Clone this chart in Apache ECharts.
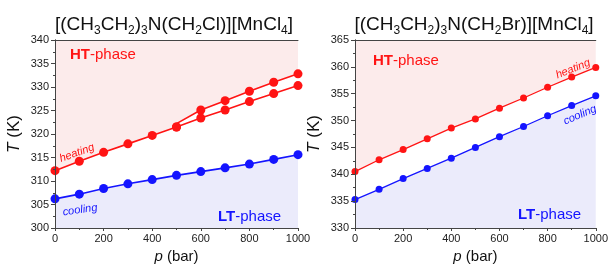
<!DOCTYPE html>
<html>
<head>
<meta charset="utf-8">
<script src="https://cdn.jsdelivr.net/npm/echarts@6/dist/echarts.min.js"></script>
<style>
  html, body { margin: 0; padding: 0; background: #fff; }
  #main { width: 611px; height: 269px; }
</style>
</head>
<body>
<div id="main"></div>
<script>
// pressure points (bar)
var pressure = [0, 100, 200, 300, 400, 500, 600, 700, 800, 900, 1000];

// left: [(CH3CH2)3N(CH2Cl)][MnCl4]
var heatL = [312.2, 314.2, 316.1, 317.9, 319.7, 321.5];          // 0..500
var heatUpL = [322.2, 325.1, 327.1, 329.1, 331.0, 332.8];        // 500..1000, first value is line start
var heatLoL = [321.5, 323.4, 325.1, 326.9, 328.6, 330.3];        // 500..1000
var coolL = [306.2, 307.2, 308.4, 309.4, 310.3, 311.2, 312.0, 312.8, 313.6, 314.6, 315.6];

// right: [(CH3CH2)3N(CH2Br)][MnCl4]
var heatR = [340.5, 342.7, 344.6, 346.6, 348.6, 350.3, 352.3, 354.2, 356.2, 358.1, 359.9];
var coolR = [335.3, 337.2, 339.2, 341.1, 343.0, 345.0, 347.0, 348.9, 350.9, 352.8, 354.6];

var RED = '#ff1414';
var BLUE = '#1414ff';
var PINK = '#fcebeb';
var LAV = '#ebebfb';
var FONT = 'Liberation Sans';

function pairs(xs, ys) {
    var out = [];
    for (var i = 0; i < ys.length; i++) out.push([xs[i], ys[i]]);
    return out;
}

// heating curve for the left panel: single branch, then upper branch (start point has no marker)
var heatAreaL = pairs(pressure.slice(0, 6), heatL);
heatAreaL.push({ value: [500, heatUpL[0]], symbol: 'none' });
heatAreaL = heatAreaL.concat(pairs(pressure.slice(6), heatUpL.slice(1)));

function xAxisOf(grid) {
    return {
        gridIndex: grid, type: 'value', min: 0, max: 1000, interval: 200,
        name: '{i|p} (bar)', nameLocation: 'middle', nameGap: 21,
        nameTextStyle: { fontSize: 15, color: '#111', fontFamily: FONT,
            rich: { i: { fontStyle: 'italic', fontSize: 15, fontFamily: FONT, color: '#111' } } },
        axisLine: { lineStyle: { color: '#444', width: 1 } },
        axisTick: { inside: false, length: 3, lineStyle: { color: '#444' } },
        minorTick: { show: true, splitNumber: 2, length: 2, lineStyle: { color: '#444' } },
        axisLabel: { fontSize: 11, color: '#222', margin: 5, fontFamily: FONT,
            formatter: function (v) { return String(v); } },
        splitLine: { show: false },
        z: 5
    };
}
function yAxisOf(grid, min, max) {
    return {
        gridIndex: grid, type: 'value', min: min, max: max, interval: 5,
        name: '{i|T} (K)', nameLocation: 'middle', nameGap: 32,
        nameTextStyle: { fontSize: 17, color: '#111', fontFamily: FONT,
            rich: { i: { fontStyle: 'italic', fontSize: 17, fontFamily: FONT, color: '#111' } } },
        axisLine: { show: true, lineStyle: { color: '#444', width: 1 } },
        axisTick: { length: 4, lineStyle: { color: '#444' } },
        minorTick: { show: true, splitNumber: 2, length: 2, lineStyle: { color: '#444' } },
        axisLabel: { fontSize: 11, color: '#222', margin: 6, fontFamily: FONT },
        splitLine: { show: false },
        z: 5
    };
}
function frameX(grid) {
    return { gridIndex: grid, type: 'value', position: 'top', min: 0, max: 1000,
        axisLine: { show: true, lineStyle: { color: '#444' } }, axisTick: { show: false },
        axisLabel: { show: false }, splitLine: { show: false }, z: 5 };
}
function frameY(grid, min, max) {
    return { gridIndex: grid, type: 'value', position: 'right', min: min, max: max,
        axisLine: { show: true, lineStyle: { color: '#444' } }, axisTick: { show: false },
        axisLabel: { show: false }, splitLine: { show: false }, z: 5 };
}

function lineSeries(xi, yi, data, color, size, width, area, origin) {
    var s = {
        type: 'line', xAxisIndex: xi, yAxisIndex: yi, data: data,
        symbol: 'circle', symbolSize: size, showSymbol: true,
        itemStyle: { color: color },
        lineStyle: { color: color, width: width },
        animation: false, z: 3
    };
    if (area) s.areaStyle = { color: area, opacity: 1, origin: origin };
    return s;
}

var sub = { fontSize: 12, fontFamily: FONT, fill: '#111', verticalAlign: 'bottom', lineHeight: 12 };
var main = { fontSize: 19, fontFamily: FONT, fill: '#111', lineHeight: 23 };

function titleText(x, txt) {
    return {
        type: 'text', x: x, y: 25, z: 10,
        style: { text: txt, align: 'center', verticalAlign: 'middle',
            rich: { m: main, s: sub } }
    };
}
function phaseText(x, y, bold, color) {
    return {
        type: 'text', x: x, y: y, z: 10,
        style: { text: '{b|' + bold + '}{n|-phase}', verticalAlign: 'middle', fill: color,
            rich: {
                b: { fontSize: 15, fontWeight: 'bold', fontFamily: FONT, fill: color },
                n: { fontSize: 15, fontFamily: FONT, fill: color }
            } }
    };
}
function noteText(x, y, txt, color, deg) {
    return {
        type: 'text', x: x, y: y, rotation: deg * Math.PI / 180,
        style: { text: txt, align: 'center', verticalAlign: 'middle',
            font: 'italic 11px "Liberation Sans"', fill: color },
        z: 10
    };
}

var chart = echarts.init(document.getElementById('main'));
var option = {
    backgroundColor: '#fff',
    animation: false,
    grid: [
        { left: 55, top: 40, width: 243, height: 195 },
        { left: 355, top: 40, width: 243, height: 195 }
    ],
    xAxis: [xAxisOf(0), xAxisOf(1), frameX(0), frameX(1)],
    yAxis: [yAxisOf(0, 300, 340), yAxisOf(1, 330, 365), frameY(0, 300, 340), frameY(1, 330, 365)],
    series: [
        lineSeries(0, 0, heatAreaL, RED, 9, 1.6, PINK, 'end'),
        lineSeries(0, 0, pairs(pressure.slice(5), heatLoL), RED, 9, 1.6),
        lineSeries(0, 0, pairs(pressure, coolL), BLUE, 9, 1.6, LAV, 'start'),
        lineSeries(1, 1, pairs(pressure, heatR), RED, 7, 1.3, PINK, 'end'),
        lineSeries(1, 1, pairs(pressure, coolR), BLUE, 7, 1.3, LAV, 'start')
    ],
    graphic: [
        titleText(174, '{m|[(CH}{s|3}{m|CH}{s|2}{m|)}{s|3}{m|N(CH}{s|2}{m|Cl)][MnCl}{s|4}{m|]}'),
        titleText(474, '{m|[(CH}{s|3}{m|CH}{s|2}{m|)}{s|3}{m|N(CH}{s|2}{m|Br)][MnCl}{s|4}{m|]}'),
        phaseText(70, 55, 'HT', RED),
        phaseText(218, 217, 'LT', BLUE),
        phaseText(373, 61, 'HT', RED),
        phaseText(518, 215, 'LT', BLUE),
        noteText(77, 153, 'heating', RED, 20),
        noteText(80, 210, 'cooling', BLUE, 8),
        noteText(573, 69, 'heating', RED, 22),
        noteText(580, 115, 'cooling', BLUE, 23)
    ]
};
chart.setOption(option);
</script>
</body>
</html>
